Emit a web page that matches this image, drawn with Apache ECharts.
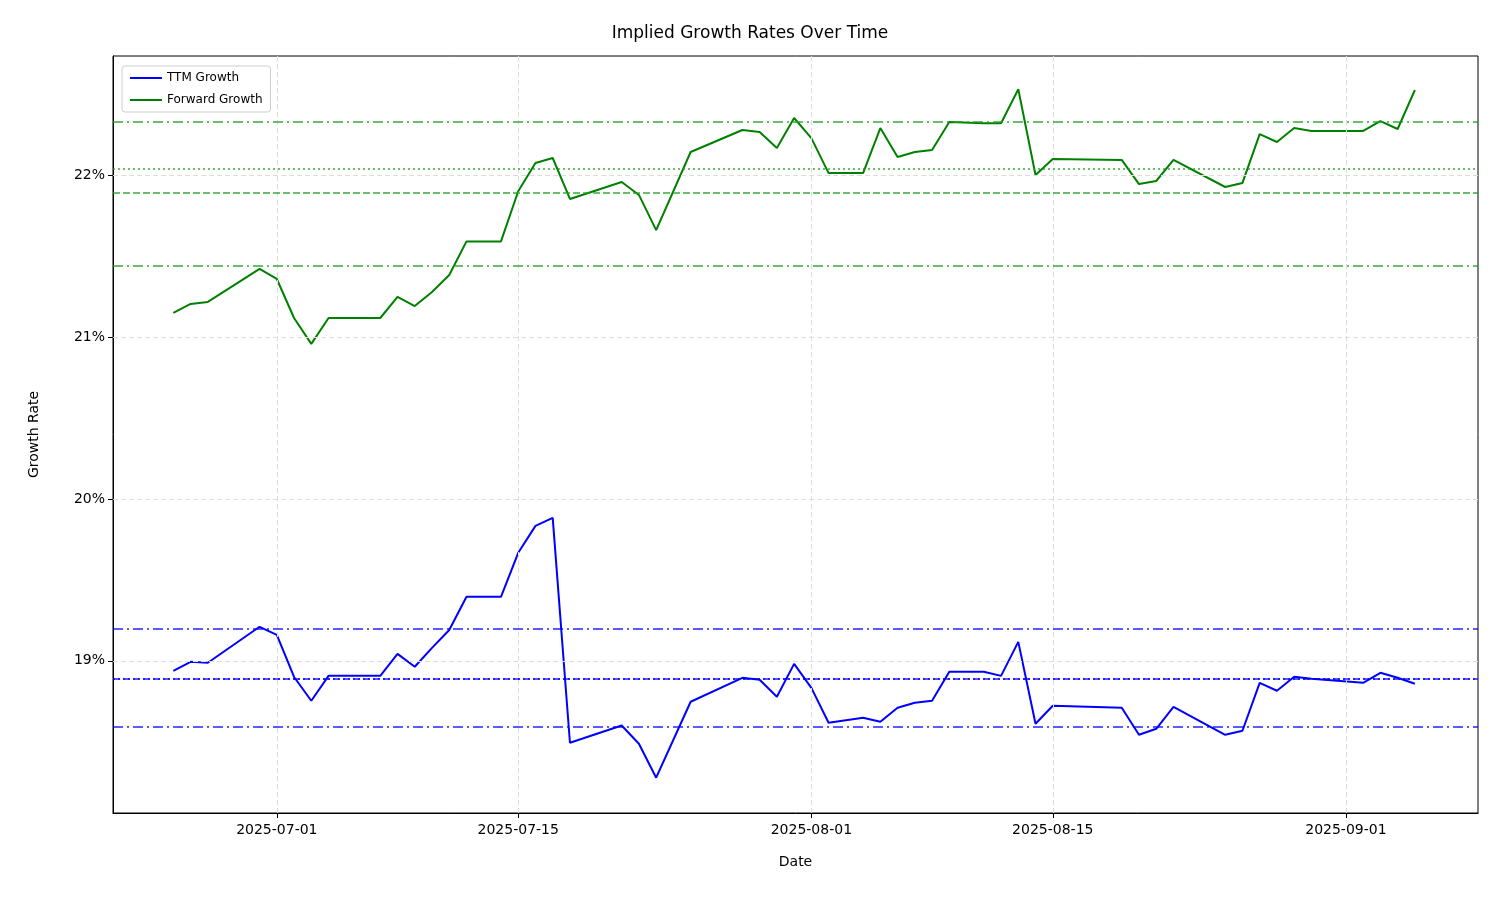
<!DOCTYPE html>
<html><head><meta charset="utf-8">
<script src="https://cdn.jsdelivr.net/npm/echarts@6/dist/echarts.min.js"></script>
<style>html,body{margin:0;padding:0;background:#fff}#c{width:1500px;height:900px}</style>
</head><body><div id="c"></div>
<script>
const dates = ['2025-06-25','2025-06-26','2025-06-27','2025-06-30','2025-07-01','2025-07-02','2025-07-03','2025-07-04','2025-07-07','2025-07-08','2025-07-09','2025-07-10','2025-07-11','2025-07-12','2025-07-14','2025-07-15','2025-07-16','2025-07-17','2025-07-18','2025-07-21','2025-07-22','2025-07-23','2025-07-25','2025-07-28','2025-07-29','2025-07-30','2025-07-31','2025-08-01','2025-08-02','2025-08-04','2025-08-05','2025-08-06','2025-08-07','2025-08-08','2025-08-09','2025-08-11','2025-08-12','2025-08-13','2025-08-14','2025-08-15','2025-08-19','2025-08-20','2025-08-21','2025-08-22','2025-08-25','2025-08-26','2025-08-27','2025-08-28','2025-08-29','2025-08-30','2025-09-02','2025-09-03','2025-09-04','2025-09-05'];
const forwardGrowth = [21.148,21.204,21.216,21.42,21.358,21.117,20.957,21.117,21.117,21.247,21.191,21.278,21.383,21.59,21.59,21.90,22.074,22.105,21.852,21.957,21.877,21.66,22.142,22.278,22.265,22.167,22.352,22.228,22.012,22.012,22.29,22.111,22.142,22.154,22.327,22.32,22.32,22.53,22.0,22.099,22.093,21.944,21.963,22.093,21.926,21.951,22.253,22.204,22.29,22.272,22.272,22.333,22.284,22.525];
const ttmGrowth = [18.938,18.994,18.988,19.21,19.16,18.90,18.753,18.907,18.907,19.043,18.963,19.08,19.19,19.395,19.395,19.667,19.833,19.883,18.494,18.6,18.488,18.278,18.747,18.895,18.883,18.778,18.981,18.833,18.617,18.648,18.623,18.71,18.741,18.753,18.932,18.932,18.907,19.117,18.611,18.722,18.71,18.543,18.58,18.716,18.543,18.568,18.864,18.815,18.901,18.889,18.864,18.926,18.895,18.858];
const greenRefs = {dashDot:[22.333,21.444], dashed:21.889, dotted:22.037};
const blueRefs = {dashDot:[19.204,18.586], dashed:18.889, dotted:18.895};
const xTicks = ['2025-07-01','2025-07-15','2025-08-01','2025-08-15','2025-09-01'];
const yTicks = [19,20,21,22];

const DAY = 86400e3;
const toTs = s => Date.UTC(+s.slice(0,4), +s.slice(5,7)-1, +s.slice(8,10));
const fmt = v => { const d = new Date(v); return d.getUTCFullYear()+'-'+String(d.getUTCMonth()+1).padStart(2,'0')+'-'+String(d.getUTCDate()).padStart(2,'0'); };
const F = 'DejaVu Sans';
function refLines(r, color){
  const op = 0.65, l = [];
  r.dashDot.forEach(v => l.push({yAxis:v, lineStyle:{color, opacity:op, width:2, type:[10,4,2,4]}}));
  l.push({yAxis:r.dashed, lineStyle:{color, opacity:op, width:2, type:[7,3]}});
  l.push({yAxis:r.dotted, lineStyle:{color, opacity:op, width:2, type:[2,3]}});
  return {silent:true, symbol:'none', label:{show:false}, data:l};
}
const chart = echarts.init(document.getElementById('c'));
chart.setOption({
  animation:false,
  title:{text:'Implied Growth Rates Over Time', left:'center', top:20, textStyle:{fontFamily:F, fontSize:17, fontWeight:'normal', color:'#000'}},
  legend:{left:122, top:66, orient:'vertical', itemWidth:32, itemHeight:2, itemGap:10, icon:'rect',
    borderColor:'#ccc', borderWidth:1, borderRadius:3, padding:[6,8],
    textStyle:{fontFamily:F, fontSize:12, color:'#000'}, data:['TTM Growth','Forward Growth']},
  grid:{left:113, right:22, top:56, bottom:87, show:true, borderColor:'#000', borderWidth:1},
  xAxis:{type:'value', min:toTs('2025-06-21')+0.5*DAY, max:toTs('2025-09-08')+0.66*DAY,
    name:'Date', nameLocation:'middle', nameGap:42, nameTextStyle:{fontFamily:F, fontSize:14, color:'#000'},
    axisLine:{lineStyle:{color:'#000'}},
    axisTick:{customValues:xTicks.map(toTs), length:5, lineStyle:{color:'#000'}},
    axisLabel:{customValues:xTicks.map(toTs), fontFamily:F, fontSize:14, color:'#000', margin:10, formatter:fmt},
    splitLine:{show:false}},
  yAxis:{type:'value', min:18.06, max:22.735,
    name:'Growth Rate', nameLocation:'middle', nameGap:72, nameTextStyle:{fontFamily:F, fontSize:14, color:'#000'},
    axisLine:{show:true, lineStyle:{color:'#000'}},
    axisTick:{show:true, customValues:yTicks, length:5, lineStyle:{color:'#000'}},
    axisLabel:{customValues:yTicks, fontFamily:F, fontSize:14, color:'#000', formatter:v=>Math.round(v)+'%'},
    splitLine:{show:false}},
  series:[
    {name:'grid', type:'line', data:[], silent:true,
      markLine:{silent:true, symbol:'none', label:{show:false},
        data:[...xTicks.map(t=>({xAxis:toTs(t)})), ...yTicks.map(v=>({yAxis:v}))],
        lineStyle:{color:'#ddd', width:1, type:[5,3]}}},
    {name:'TTM Growth', type:'line', showSymbol:false, color:'#0000ff', lineStyle:{width:2, color:'#0000ff'},
      data:dates.map((d,i)=>[toTs(d), ttmGrowth[i]]), markLine:refLines(blueRefs,'#0000ff')},
    {name:'Forward Growth', type:'line', showSymbol:false, color:'#008000', lineStyle:{width:2, color:'#008000'},
      data:dates.map((d,i)=>[toTs(d), forwardGrowth[i]]), markLine:refLines(greenRefs,'#1a9e1a')}
  ]
});
</script></body></html>
